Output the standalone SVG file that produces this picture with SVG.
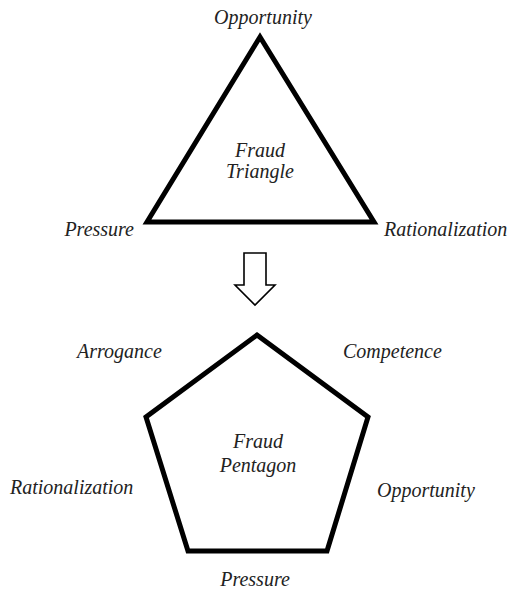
<svg xmlns="http://www.w3.org/2000/svg" width="510" height="592" viewBox="0 0 510 592">
<style>
.lbl{font-family:"Liberation Serif","Times New Roman",serif;font-style:italic;font-size:20px;fill:#222;}
.c{text-anchor:middle;}
.e{text-anchor:end;}
.shape{fill:none;stroke:#000;stroke-width:5;stroke-linejoin:miter;}
</style>
<rect width="510" height="592" fill="#fff"/>
<g id="triangle">
<polygon class="shape" points="260,37 147,222 374,222"/>
<text class="lbl c" x="260" y="157">Fraud</text>
<text class="lbl c" x="260" y="178">Triangle</text>
</g>
<g id="tri-opportunity"><text class="lbl c" x="263" y="24">Opportunity</text></g>
<g id="tri-pressure"><text class="lbl e" x="134" y="236">Pressure</text></g>
<g id="tri-rationalization"><text class="lbl" x="384" y="236">Rationalization</text></g>
<g id="connectors">
<polygon points="244,253 266,253 266,285 275,285 255,305 235,285 244,285" fill="#fff" stroke="#000" stroke-width="1.6"/>
</g>
<g id="pentagon">
<polygon class="shape" points="257,335 368,417 327,551 188,551 146,417"/>
<text class="lbl c" x="258" y="448">Fraud</text>
<text class="lbl c" x="258" y="472">Pentagon</text>
</g>
<g id="pen-arrogance"><text class="lbl" x="77" y="358">Arrogance</text></g>
<g id="pen-competence"><text class="lbl" x="343" y="358">Competence</text></g>
<g id="pen-rationalization"><text class="lbl" x="10" y="494">Rationalization</text></g>
<g id="pen-opportunity"><text class="lbl" x="377" y="497">Opportunity</text></g>
<g id="pen-pressure"><text class="lbl c" x="255" y="586">Pressure</text></g>
</svg>
